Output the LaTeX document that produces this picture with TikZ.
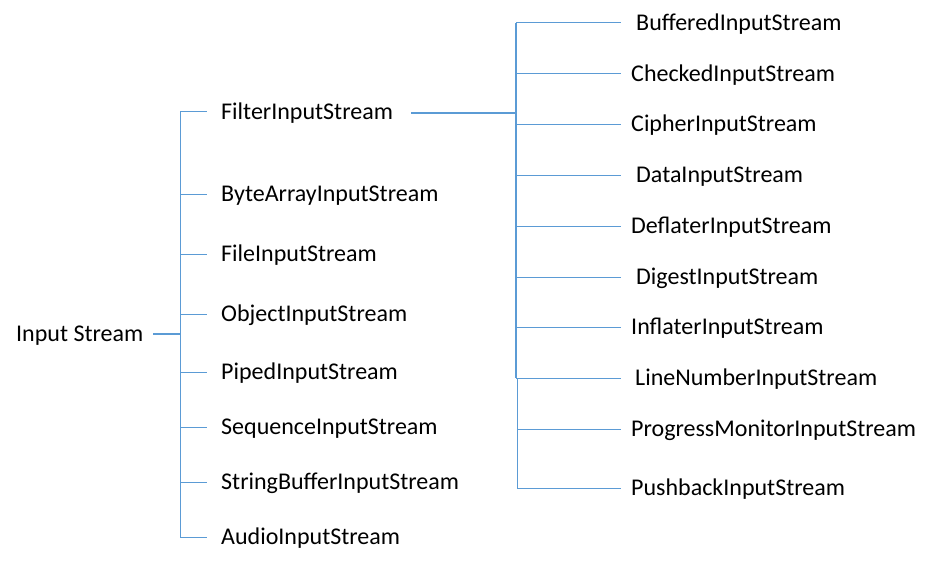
\documentclass[tikz,border=0pt]{standalone}
\usepackage{fontspec}
\setmainfont{Carlito}
\usetikzlibrary{calc}
\definecolor{linkblue}{RGB}{91,155,213}
\tikzset{
  lbl/.style={anchor=base west, inner sep=0pt, font=\fontsize{24}{28}\selectfont, text=black},
  branch/.style={draw=linkblue, line width=1pt},
  mainline/.style={draw=linkblue, line width=2pt},
}
\begin{document}
\begin{tikzpicture}[x=1pt,y=-1pt]
\useasboundingbox (0,0) rectangle (933,564);
% labels
\node[lbl] (root) at (16,341.5) {Input Stream};
\node[lbl] (filter) at (221,119.5) {FilterInputStream};
\node[lbl] (bytearr) at (221,201.5) {ByteArrayInputStream};
\node[lbl] (file) at (221,261.5) {FileInputStream};
\node[lbl] (object) at (221,321.5) {ObjectInputStream};
\node[lbl] (piped) at (221,379.5) {PipedInputStream};
\node[lbl] (sequence) at (221,434.5) {SequenceInputStream};
\node[lbl] (stringbuf) at (221,489.5) {StringBufferInputStream};
\node[lbl] (audio) at (221,544.5) {AudioInputStream};
\node[lbl] (buffered) at (636,30.5) {BufferedInputStream};
\node[lbl] (checked) at (631,81.5) {CheckedInputStream};
\node[lbl] (cipher) at (631,132) {CipherInputStream};
\node[lbl] (data) at (636,182.5) {DataInputStream};
\node[lbl] (deflater) at (631,233.5) {DeflaterInputStream};
\node[lbl] (digest) at (636,284.5) {DigestInputStream};
\node[lbl] (inflater) at (631,334.5) {InflaterInputStream};
\node[lbl] (linenum) at (635,385.5) {LineNumberInputStream};
\node[lbl] (progress) at (631,436.5) {ProgressMonitorInputStream};
\node[lbl] (pushback) at (631,495.5) {PushbackInputStream};
% left tree
\coordinate (rootend) at (153,334);
\coordinate (ltrunk) at (180,334);
\coordinate (lt1) at (180,112);
\coordinate (lt2) at (180,194);
\coordinate (lt3) at (180,254);
\coordinate (lt4) at (180,314);
\coordinate (lt5) at (180,372);
\coordinate (lt6) at (180,427);
\coordinate (lt7) at (180,482);
\coordinate (lt8) at (180,537);
\foreach \i in {1,...,8} { \coordinate (le\i) at ($(lt\i)+(27,0)$); }
\draw[mainline] (rootend) -- (ltrunk);
\draw[branch] (lt1) -- (lt8);
\foreach \i in {1,...,8} { \draw[branch] (lt\i) -- (le\i); }
% right tree
\coordinate (filterend) at (411,113);
\coordinate (rjoin) at (516,113);
\coordinate (rx) at (621,0);
\coordinate (rt1) at (516,23);
\coordinate (rt2) at (516,74);
\coordinate (rt3) at (516,124.5);
\coordinate (rt4) at (516,175);
\coordinate (rt5) at (516,226);
\coordinate (rt6) at (516,277);
\coordinate (rt7) at (516,327);
\coordinate (rt8) at (516,378);
\coordinate (rt9) at (517,429);
\coordinate (rt10) at (517,488);
\coordinate (rt8b) at (517,378);
\foreach \i in {1,...,10} { \coordinate (re\i) at (rt\i -| rx); }
\draw[mainline] (filterend) -- (rjoin);
\draw[linkblue, line width=1.6pt] (rt1) -- (rt8);
\draw[branch] (rt8b) -- (rt10);
\foreach \i in {1,...,10} { \draw[branch] (rt\i) -- (re\i); }
\end{tikzpicture}
\end{document}
